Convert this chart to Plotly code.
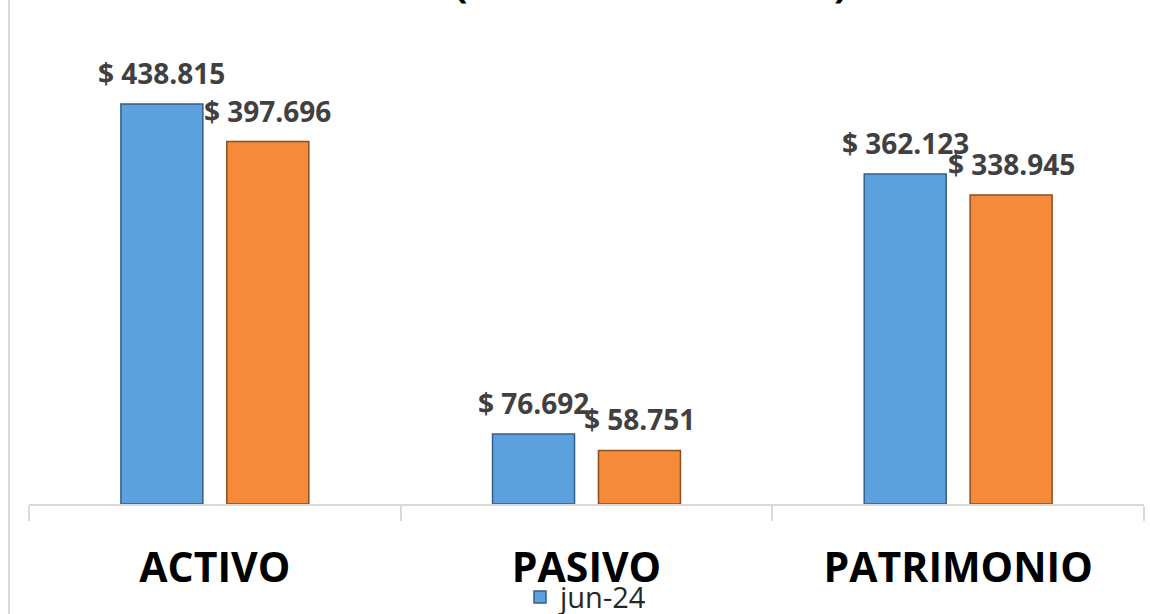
import plotly.graph_objects as go

categories = ["ACTIVO", "PASIVO", "PATRIMONIO"]
series_names = ["jun-24", "jun-23"]
values_jun24 = [438815, 76692, 362123]
values_jun23 = [397696, 58751, 338945]

colors = ["#5ca0dd", "#f58a3b"]
edge_colors = ["#355f88", "#8f4c1c"]


def fmt(v):
    return "$ " + f"{v:,}".replace(",", ".")


fig = go.Figure()
for name, vals, col, edge, show in zip(series_names, [values_jun24, values_jun23], colors, edge_colors, [True, False]):
    fig.add_trace(go.Bar(
        x=categories, y=vals, name=name,
        marker=dict(color=col, line=dict(color=edge, width=1.5)),
        showlegend=show,
    ))

# data labels
for vals, shift in zip([values_jun24, values_jun23], [-53, 53]):
    for c, v in zip(categories, vals):
        fig.add_annotation(
            x=c, y=v, text="<b>" + fmt(v) + "</b>", showarrow=False,
            xshift=shift, yanchor="bottom", yshift=10,
            font=dict(family="Open Sans", size=28, color="#404040"),
        )

# tails of the cropped title parentheses
for ch, px in [("(", 461), (")", 841)]:
    fig.add_annotation(
        xref="paper", yref="paper", x=(px - 29) / 1115, y=1, text="<b>" + ch + "</b>",
        showarrow=False, xanchor="center", yanchor="bottom", yshift=-11,
        font=dict(family="Open Sans", size=40, color="#000000"),
    )

# chart frame left edge
fig.add_shape(type="line", xref="paper", yref="paper",
              x0=(9 - 29) / 1115, x1=(9 - 29) / 1115, y0=-0.3, y1=1.1,
              line=dict(color="#d9d9d9", width=2))

fig.update_layout(
    width=1150, height=614,
    margin=dict(l=29, r=6, t=0, b=110, autoexpand=False),
    paper_bgcolor="white", plot_bgcolor="white",
    barmode="group", bargap=0.43, bargroupgap=0.226,
    font=dict(family="Open Sans", color="#000000"),
    legend=dict(orientation="h", x=0.5, xanchor="center", y=-0.185, yanchor="middle",
                font=dict(family="Open Sans", size=29, color="#262626"),
                bgcolor="rgba(0,0,0,0)"),
    xaxis=dict(
        showline=True, linecolor="#d9d9d9", linewidth=2,
        ticks="outside", tickson="boundaries", ticklen=15, tickcolor="#d9d9d9", tickwidth=2,
        tickfont=dict(family="Open Sans", size=41, color="#000000", weight="bold"),
        ticklabelstandoff=27,
        showgrid=False, zeroline=False,
    ),
    yaxis=dict(range=[0, 553000], visible=False, showgrid=False, zeroline=False),
)

fig.write_html("out.html", config={"displayModeBar": False},
               post_script="document.body.style.margin='0px';")
